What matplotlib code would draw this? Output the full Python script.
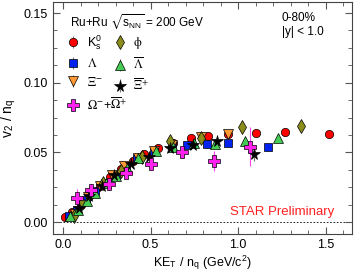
import matplotlib
matplotlib.use('Agg')
import matplotlib.pyplot as plt
from matplotlib.ticker import MultipleLocator

plt.rcParams['font.family'] = ['Liberation Sans', 'DejaVu Sans']
plt.rcParams['mathtext.fontset'] = 'stix'

# K0s
k0s_x = [0.01, 0.05, 0.10, 0.15, 0.21, 0.27, 0.33, 0.40, 0.46, 0.54, 0.63, 0.73, 0.83, 0.94, 1.10, 1.27, 1.52]
k0s_y = [0.0035, 0.007, 0.012, 0.019, 0.026, 0.032, 0.038, 0.044, 0.049, 0.053, 0.057, 0.060, 0.062, 0.063, 0.064, 0.065, 0.063]
k0s_e = [0.0005, 0.0005, 0.0005, 0.0005, 0.0005, 0.0005, 0.0005, 0.0006, 0.0006, 0.0007, 0.0008, 0.0009, 0.001, 0.001, 0.0012, 0.0015, 0.002]

# Lambda
lam_x = [0.035, 0.08, 0.13, 0.18, 0.24, 0.30, 0.36, 0.42, 0.52, 0.62, 0.71, 0.82, 0.94, 1.17]
lam_y = [0.004, 0.009, 0.016, 0.022, 0.028, 0.033, 0.040, 0.046, 0.051, 0.055, 0.055, 0.056, 0.057, 0.054]
lam_e = [0.0005, 0.0005, 0.0005, 0.0005, 0.0005, 0.0005, 0.0005, 0.0006, 0.0007, 0.0008, 0.001, 0.001, 0.0012, 0.0015]

# anti-Lambda
alam_x = [0.04, 0.085, 0.135, 0.185, 0.245, 0.305, 0.365, 0.43, 0.53, 0.63, 0.75, 0.87, 1.04, 1.23]
alam_y = [0.004, 0.009, 0.015, 0.021, 0.028, 0.033, 0.039, 0.046, 0.051, 0.054, 0.057, 0.056, 0.058, 0.060]
alam_e = [0.0005, 0.0005, 0.0005, 0.0005, 0.0005, 0.0005, 0.0005, 0.0006, 0.0007, 0.0008, 0.001, 0.001, 0.0012, 0.0015]

# Xi-
xi_x = [0.07, 0.14, 0.21, 0.28, 0.35, 0.43, 0.52, 0.62, 0.79, 0.94]
xi_y = [0.006, 0.018, 0.026, 0.034, 0.040, 0.046, 0.051, 0.055, 0.061, 0.063]
xi_e = [0.002, 0.001, 0.001, 0.001, 0.001, 0.001, 0.001, 0.0015, 0.002, 0.003]

# anti-Xi+
axi_x = [0.09, 0.15, 0.22, 0.29, 0.39, 0.49, 0.61, 0.74, 0.88, 1.09]
axi_y = [0.010, 0.019, 0.026, 0.034, 0.042, 0.047, 0.053, 0.055, 0.058, 0.049]
axi_e = [0.002, 0.001, 0.001, 0.001, 0.001, 0.001, 0.001, 0.0015, 0.002, 0.005]

# Omega- + anti-Omega+
om_x = [0.08, 0.16, 0.26, 0.36, 0.50, 0.68, 0.86, 1.07]
om_y = [0.017, 0.023, 0.027, 0.035, 0.042, 0.050, 0.044, 0.054]
om_e = [0.007, 0.003, 0.002, 0.002, 0.003, 0.003, 0.007, 0.014]

# phi
phi_x = [0.06, 0.11, 0.16, 0.23, 0.33, 0.45, 0.61, 0.79, 1.02, 1.36]
phi_y = [0.004, 0.014, 0.022, 0.028, 0.037, 0.047, 0.058, 0.060, 0.068, 0.069]
phi_e = [0.001, 0.001, 0.001, 0.001, 0.001, 0.001, 0.0015, 0.002, 0.002, 0.003]

fig = plt.figure(figsize=(3.54, 2.76), dpi=100)
ax = fig.add_axes([0.150, 0.152, 0.844, 0.841])

ax.axhline(0, color='black', ls=(0, (2, 2)), lw=0.6, zorder=1)

series = [
    (k0s_x, k0s_y, k0s_e, 'o', '#ff0000', 6.0, r'K$_\mathregular{s}^\mathregular{0}$'),
    (lam_x, lam_y, lam_e, 's', '#0022ee', 5.5, r'$\mathrm{\Lambda}$'),
    (xi_x, xi_y, xi_e, 'v', '#ff9933', 6.5, r'$\mathrm{\Xi}^{-}$'),
    (phi_x, phi_y, phi_e, 'd', '#8c8c1a', 7.5, r'$\mathrm{\phi}$'),
    (alam_x, alam_y, alam_e, '^', '#44cc55', 6.5, r'$\overline{\mathrm{\Lambda}}$'),
    (axi_x, axi_y, axi_e, '*', '#000000', 8.5, r'$\overline{\mathrm{\Xi}}^{+}$'),
    (om_x, om_y, om_e, 'P', '#ff22ee', 8.0, r'$\mathrm{\Omega}^{-}$+$\overline{\mathrm{\Omega}}^{+}$'),
]

handles = []
for xs, ys, es, m, c, ms, lab in series:
    ec = '#ff44ee' if m == 'P' else '#777777'
    h = ax.errorbar(xs, ys, yerr=es, fmt=m, color=c, ms=ms, mec='black', mew=0.5,
                    ecolor=ec, elinewidth=0.8, capsize=0, label=lab, zorder=3)
    handles.append(h)

leg_kw = dict(frameon=False, fontsize=9, handlelength=1.0, handletextpad=0.6,
              labelspacing=0.42, borderaxespad=0.2, loc='upper left')
leg1 = ax.legend(handles=handles[:6], ncol=2, bbox_to_anchor=(0.02, 0.897),
                 columnspacing=0.9, **leg_kw)
ax.add_artist(leg1)
ax.legend(handles=handles[6:], bbox_to_anchor=(0.02, 0.625), **leg_kw)

ax.text(0.055, 0.955, r'Ru+Ru $\sqrt{\mathregular{s_{NN}}}$ = 200 GeV', transform=ax.transAxes,
        fontsize=8.5, va='top', ha='left')
ax.text(0.765, 0.955, '0-80%\n|y| < 1.0', transform=ax.transAxes, fontsize=8.5,
        va='top', ha='left', linespacing=1.2)
ax.text(0.94, 0.07, 'STAR Preliminary', transform=ax.transAxes, fontsize=9.5,
        color='#ff2020', ha='right', va='bottom')

ax.set_xlim(-0.057, 1.65)
ax.set_ylim(-0.0086, 0.158)
ax.xaxis.set_major_locator(MultipleLocator(0.5))
ax.xaxis.set_minor_locator(MultipleLocator(0.1))
ax.yaxis.set_major_locator(MultipleLocator(0.05))
ax.yaxis.set_minor_locator(MultipleLocator(0.0125))
ax.xaxis.set_major_formatter(plt.FuncFormatter(lambda v, p: f'{v:.1f}'))
ax.yaxis.set_major_formatter(plt.FuncFormatter(lambda v, p: f'{v:.2f}'))
ax.tick_params(which='both', direction='in', top=True, right=True, color='#555555', labelsize=9)
ax.tick_params(which='major', length=5, width=0.8)
ax.tick_params(which='minor', length=3, width=0.6)
for s in ax.spines.values():
    s.set_color('#444444')
    s.set_linewidth(0.8)

ax.set_xlabel(r'KE$_\mathregular{T}$ / n$_\mathregular{q}$ (GeV/c$^\mathregular{2}$)', fontsize=9, labelpad=2)
ax.set_ylabel(r'v$_\mathregular{2}$ / n$_\mathregular{q}$', fontsize=10, labelpad=4)

fig.savefig('out.png', dpi=100)
